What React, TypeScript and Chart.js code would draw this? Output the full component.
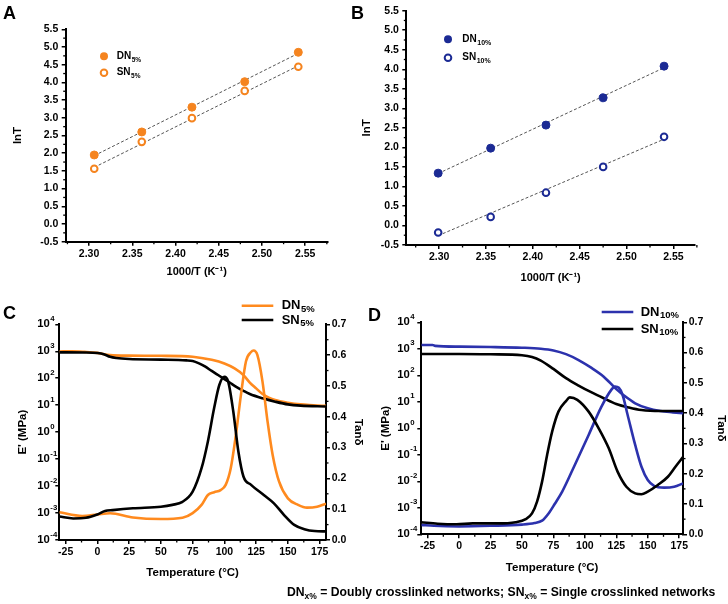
import React, { useEffect, useRef } from 'react';
import { Chart, registerables } from 'chart.js';
Chart.register(...registerables);

const FONT = '"Liberation Sans", Arial, Helvetica, sans-serif';
const ORANGE = '#ff8a1e';
const ORANGE_PT = '#f5841f';
const BLUE_PT = '#1b2a94';
const BLUE = '#2c32ad';
const FIT = '#555555';

// ---------- Panel A (lnT vs 1000/T, 5%) ----------
const aX = [2.306, 2.361, 2.419, 2.480, 2.542];
const aDN = [1.95, 2.60, 3.30, 4.02, 4.85];
const aSN = [1.56, 2.32, 2.99, 3.76, 4.44];
const aFitX = [2.306, 2.542];
const aFitDN = [1.93, 4.82];
const aFitSN = [1.60, 4.47];

// ---------- Panel B (lnT vs 1000/T, 10%) ----------
const bX = [2.299, 2.355, 2.414, 2.475, 2.540];
const bDN = [1.34, 1.98, 2.57, 3.27, 4.08];
const bSN = [-0.18, 0.22, 0.84, 1.50, 2.27];
const bFitX = [2.299, 2.540];
const bFitDN = [1.33, 4.04];
const bFitSN = [-0.26, 2.21];

// ---------- tick labels ----------
const lnTTicks = [-0.5, 0, 0.5, 1, 1.5, 2, 2.5, 3, 3.5, 4, 4.5, 5, 5.5];
const invTTicks = [2.30, 2.35, 2.40, 2.45, 2.50, 2.55];
const tempTicks = [-25, 0, 25, 50, 75, 100, 125, 150, 175];
const tanTicks = [0, 0.1, 0.2, 0.3, 0.4, 0.5, 0.6, 0.7];
const modExps = [-4, -3, -2, -1, 0, 1, 2, 3, 4];

// ---------- Panel C (DMA, 5%) ----------
const cDNE_T = [-30, -20, -10, 0, 10, 25, 50, 75, 90, 100, 108, 115, 120, 125, 130, 135, 140, 150, 160, 170, 180];
const cDNE = [980, 1000, 950, 870, 720, 690, 680, 630, 480, 350, 230, 130, 69, 42, 26, 19, 15.5, 12.4, 10.7, 10, 9.4];
const cSNE_T = [-30, -10, 0, 5, 10, 15, 25, 50, 70, 75, 80, 85, 90, 95, 100, 105, 110, 115, 120, 130, 140, 150, 160, 180];
const cSNE = [910, 900, 860, 780, 620, 560, 515, 490, 460, 437, 357, 268, 186, 132, 93, 65, 46, 34, 26, 18, 13.5, 10.7, 9.6, 8.9];
const cDNtan_T = [-30, -12, 0, 10, 28, 50, 67, 75, 82, 87, 92, 97, 101, 105, 109, 113, 117, 121, 123, 126, 130, 134, 138, 143, 150, 158, 165, 173, 180];
const cDNtan = [0.090, 0.078, 0.083, 0.087, 0.073, 0.068, 0.072, 0.087, 0.114, 0.146, 0.155, 0.162, 0.179, 0.233, 0.34, 0.47, 0.58, 0.61, 0.615, 0.60, 0.514, 0.384, 0.276, 0.19, 0.135, 0.114, 0.105, 0.108, 0.118];
const cSNtan_T = [-30, -19, -9, 0, 6, 12, 28, 50, 59, 67, 75, 82, 87, 92, 96, 100, 103, 107, 111, 115, 121, 131, 139, 147, 155, 163, 171, 180];
const cSNtan = [0.076, 0.070, 0.072, 0.083, 0.094, 0.097, 0.103, 0.108, 0.114, 0.124, 0.157, 0.233, 0.32, 0.43, 0.503, 0.53, 0.514, 0.417, 0.287, 0.206, 0.179, 0.146, 0.119, 0.081, 0.049, 0.035, 0.029, 0.028];

// ---------- Panel D (DMA, 10%) ----------
const dDNE_T = [-30, -21, -19, 0, 25, 50, 65, 75, 85, 95, 105, 115, 125, 130, 135, 140, 150, 160, 170, 178];
const dDNE = [1400, 1400, 1290, 1210, 1170, 1100, 1010, 870, 630, 377, 194, 89, 30, 19, 12.8, 8.8, 5.7, 4.5, 4.0, 3.7];
const dSNE_T = [-30, 0, 25, 50, 58, 65, 75, 85, 95, 105, 115, 125, 135, 145, 160, 178];
const dSNE = [640, 640, 620, 570, 490, 357, 174, 78, 41, 23, 13.6, 8.3, 6.1, 4.9, 4.5, 4.5];
const dDNtan_T = [-30, -20, 0, 25, 50, 60, 66, 71, 76, 82, 92, 103, 113, 121, 124, 127, 130, 134, 140, 145, 150, 155, 163, 171, 178];
const dDNtan = [0.031, 0.028, 0.026, 0.028, 0.032, 0.037, 0.045, 0.068, 0.1, 0.141, 0.229, 0.328, 0.42, 0.477, 0.488, 0.484, 0.46, 0.394, 0.295, 0.223, 0.179, 0.16, 0.154, 0.157, 0.168];
const dSNtan_T = [-30, -17, -2, 11, 30, 45, 53, 58, 62, 66, 70, 74, 79, 85, 88, 94, 103, 111, 119, 126, 133, 140, 145, 150, 158, 166, 172, 178];
const dSNtan = [0.040, 0.035, 0.033, 0.036, 0.036, 0.040, 0.050, 0.069, 0.108, 0.174, 0.262, 0.339, 0.405, 0.44, 0.452, 0.444, 0.405, 0.35, 0.284, 0.207, 0.157, 0.135, 0.132, 0.141, 0.163, 0.19, 0.223, 0.255];

// ---------- helpers ----------
const pts = (xs: number[], ys: number[]) => xs.map((x, i) => ({ x, y: ys[i] }));
const mids = (a: number[]) => a.slice(0, -1).map((v, i) => (v + a[i + 1]) / 2);
const bold = (size: number) => ({ family: FONT, size, weight: 'bold' as const });
const GRID = { display: true, drawOnChartArea: false, drawTicks: true, tickLength: 4, color: '#000', lineWidth: 1.5 };
const BORDER = { display: true, color: '#000', width: 2 };

function linAxis(o: any) {
  return {
    type: 'linear',
    position: o.position,
    min: o.min,
    max: o.max,
    afterBuildTicks: (s: any) => { s.ticks = o.ticks.map((v: number) => ({ value: v })); },
    afterFit: (s: any) => {
      if (o.fitW !== undefined) s.width = o.fitW;
      if (o.fitH !== undefined) s.height = o.fitH;
    },
    ticks: {
      display: o.showTicks !== false,
      callback: (v: any) => o.fmt(Number(v)),
      font: bold(o.size),
      color: '#000',
      padding: o.labelPad,
      autoSkip: false,
      maxRotation: 0,
      minRotation: 0,
    },
    grid: GRID,
    border: BORDER,
    title: o.title
      ? { display: true, text: o.title, color: '#000', font: bold(o.titleSize), padding: o.titlePad }
      : { display: false },
  };
}

function drawSub(ctx: CanvasRenderingContext2D, x: number, y: number, main: string, sub: string, ms: number, ss: number, dy: number) {
  ctx.textAlign = 'left';
  ctx.textBaseline = 'middle';
  ctx.fillStyle = '#000';
  ctx.font = `bold ${ms}px ${FONT}`;
  ctx.fillText(main, x, y);
  const w = ctx.measureText(main).width;
  ctx.font = `bold ${ss}px ${FONT}`;
  ctx.fillText(sub, x + w + 0.5, y + dy);
}

function decorPlugin(o: any) {
  return {
    id: 'decor',
    afterDraw(chart: any) {
      const ctx: CanvasRenderingContext2D = chart.ctx;
      ctx.save();
      ctx.strokeStyle = '#000';
      ctx.lineWidth = 1.3;
      for (const m of o.minor || []) {
        const s = chart.scales[m.id];
        for (const v of m.values) {
          const p = s.getPixelForValue(v);
          ctx.beginPath();
          if (m.side === 'bottom') { ctx.moveTo(p, s.top); ctx.lineTo(p, s.top + 2.5); }
          else if (m.side === 'left') { ctx.moveTo(s.right, p); ctx.lineTo(s.right - 2.5, p); }
          else { ctx.moveTo(s.left, p); ctx.lineTo(s.left + 2.5, p); }
          ctx.stroke();
        }
      }
      if (o.log) {
        const s = chart.scales[o.log.id];
        for (const e of o.log.exps) {
          const y = s.getPixelForValue(Math.pow(10, e));
          ctx.fillStyle = '#000';
          ctx.textAlign = 'left';
          ctx.textBaseline = 'middle';
          ctx.font = `bold 11.3px ${FONT}`;
          ctx.fillText('10', o.log.x, y);
          const w = ctx.measureText('10').width;
          ctx.font = `bold 7.8px ${FONT}`;
          ctx.fillText(String(e), o.log.x + w + 0.5, y - 5.5);
        }
      }
      if (o.legend) o.legend(ctx);
      ctx.restore();
    },
  };
}

function ChartBox({ left, top, width, height, build }: any) {
  const ref = useRef<HTMLCanvasElement>(null);
  useEffect(() => {
    const chart = new Chart(ref.current as HTMLCanvasElement, build());
    return () => chart.destroy();
  }, []);
  return (
    <canvas
      ref={ref}
      width={width}
      height={height}
      style={{ position: 'absolute', left, top, width, height }}
    />
  );
}

// ---------- Panels A/B ----------
function buildLn(p: any) {
  const datasets: any[] = [
    { data: pts(p.fitX, p.fitDN), borderColor: FIT, borderWidth: 1, borderDash: [3, 2], pointRadius: 0, showLine: true, order: 2 },
    { data: pts(p.fitX, p.fitSN), borderColor: FIT, borderWidth: 1, borderDash: [3, 2], pointRadius: 0, showLine: true, order: 2 },
    { data: pts(p.x, p.dn), showLine: false, pointRadius: 4, pointBackgroundColor: p.color, pointBorderColor: p.color, pointBorderWidth: 1, order: 1 },
    { data: pts(p.x, p.sn), showLine: false, pointRadius: 3.3, pointBackgroundColor: '#fff', pointBorderColor: p.color, pointBorderWidth: 2, order: 1 },
  ];
  return {
    type: 'line',
    data: { datasets },
    options: {
      animation: false,
      responsive: false,
      devicePixelRatio: 1,
      events: [],
      layout: { autoPadding: false, padding: p.pad },
      plugins: { legend: { display: false }, tooltip: { enabled: false } },
      scales: {
        x: linAxis({ position: 'bottom', min: p.xmin, max: p.xmax, ticks: invTTicks, fmt: (v: number) => v.toFixed(2), size: 10.5, labelPad: 2, fitH: p.xH, title: '1000/T (K\u207B\u00B9)', titleSize: 11, titlePad: { top: 0, bottom: p.xTitlePad } }),
        y: linAxis({ position: 'left', min: -0.5, max: 5.5, ticks: lnTTicks, fmt: (v: number) => v.toFixed(1), size: 10.5, labelPad: 3.4, fitW: p.yW, title: 'lnT', titleSize: 11.5, titlePad: { top: p.yTitlePad, bottom: 0 } }),
      },
    },
    plugins: [decorPlugin({
      minor: [
        { id: 'x', side: 'bottom', values: mids(invTTicks).concat([2.275, 2.575]) },
        { id: 'y', side: 'left', values: mids(lnTTicks) },
      ],
      legend: (ctx: CanvasRenderingContext2D) => {
        const L = p.legend;
        ctx.fillStyle = p.color;
        ctx.beginPath(); ctx.arc(L.mx, L.y1, 4, 0, Math.PI * 2); ctx.fill();
        ctx.strokeStyle = p.color; ctx.lineWidth = 2; ctx.fillStyle = '#fff';
        ctx.beginPath(); ctx.arc(L.mx, L.y2, 3.3, 0, Math.PI * 2); ctx.fill(); ctx.stroke();
        drawSub(ctx, L.tx, L.y1, 'DN', p.sub, 10, L.ss, 3.5);
        drawSub(ctx, L.tx, L.y2, 'SN', p.sub, 10, L.ss, 3.5);
      },
    })],
  };
}

// ---------- Panels C/D ----------
function buildDMA(p: any) {
  const line = (xs: number[], ys: number[], color: string, axis: string) => ({
    data: pts(xs, ys), yAxisID: axis, borderColor: color, borderWidth: 2.6, pointRadius: 0,
    cubicInterpolationMode: 'monotone', fill: false,
  });
  return {
    type: 'line',
    data: {
      datasets: [
        line(p.snTanT, p.snTan, '#000', 'y1'),
        line(p.dnTanT, p.dnTan, p.color, 'y1'),
        line(p.snET, p.snE, '#000', 'y'),
        line(p.dnET, p.dnE, p.color, 'y'),
      ],
    },
    options: {
      animation: false,
      responsive: false,
      devicePixelRatio: 1,
      events: [],
      layout: { autoPadding: false, padding: p.pad },
      plugins: { legend: { display: false }, tooltip: { enabled: false } },
      scales: {
        x: linAxis({ position: 'bottom', min: -30, max: p.xmax, ticks: tempTicks, fmt: (v: number) => String(v), size: 10.5, labelPad: 2, fitH: p.xH, title: 'Temperature (\u00B0C)', titleSize: 11.5, titlePad: { top: 0, bottom: p.xTitlePad } }),
        y: {
          type: 'logarithmic',
          position: 'left',
          min: 1e-4,
          max: 1e4,
          afterBuildTicks: (s: any) => { s.ticks = modExps.map((e) => ({ value: Math.pow(10, e) })); },
          afterFit: (s: any) => { s.width = p.yW; },
          ticks: { display: false, autoSkip: false },
          grid: GRID,
          border: BORDER,
          title: { display: true, text: "E' (MPa)", color: '#000', font: bold(11.5), padding: { top: p.yTitlePad, bottom: 0 } },
        },
        y1: linAxis({ position: 'right', min: 0, max: 0.7, ticks: tanTicks, fmt: (v: number) => v.toFixed(1), size: 10.5, labelPad: 1.7, fitW: p.y1W, title: 'Tan\u03B4', titleSize: 11.5, titlePad: { top: p.y1TitlePad, bottom: 0 } }),
      },
    },
    plugins: [decorPlugin({
      minor: [
        { id: 'x', side: 'bottom', values: mids(tempTicks) },
        { id: 'y1', side: 'right', values: mids(tanTicks) },
      ],
      log: { id: 'y', exps: modExps, x: p.logX },
      legend: (ctx: CanvasRenderingContext2D) => {
        const L = p.legend;
        ctx.lineWidth = 2.6;
        ctx.strokeStyle = p.color;
        ctx.beginPath(); ctx.moveTo(L.x0, L.y1); ctx.lineTo(L.x1, L.y1); ctx.stroke();
        ctx.strokeStyle = '#000';
        ctx.beginPath(); ctx.moveTo(L.x0, L.y2); ctx.lineTo(L.x1, L.y2); ctx.stroke();
        drawSub(ctx, L.tx, L.y1, 'DN', p.sub, 13, 9.5, 3.5);
        drawSub(ctx, L.tx, L.y2, 'SN', p.sub, 13, 9.5, 3.5);
      },
    })],
  };
}

const letterStyle = (left: number, top: number): React.CSSProperties => ({
  position: 'absolute', left, top, fontFamily: FONT, fontWeight: 'bold', fontSize: 18, lineHeight: '18px', color: '#000',
});

export default function App() {
  return (
    <div style={{ position: 'fixed', left: 0, top: 0, width: 728, height: 604, background: '#fff', overflow: 'hidden' }}>
      <ChartBox left={0} top={0} width={364} height={300} build={() => buildLn({
        x: aX, dn: aDN, sn: aSN, fitX: aFitX, fitDN: aFitDN, fitSN: aFitSN, color: ORANGE_PT, sub: '5%',
        xmin: 2.273, xmax: 2.576, pad: { left: 0, right: 36.3, top: 29.3, bottom: 0 },
        xH: 58.3, xTitlePad: 21.7, yW: 65.7, yTitlePad: 11.4,
        legend: { mx: 104, y1: 56.3, y2: 72.7, tx: 116.7, ss: 6.5 },
      })} />
      <ChartBox left={350} top={0} width={378} height={300} build={() => buildLn({
        x: bX, dn: bDN, sn: bSN, fitX: bFitX, fitDN: bFitDN, fitSN: bFitSN, color: BLUE_PT, sub: '10%',
        xmin: 2.265, xmax: 2.573, pad: { left: 0, right: 33, top: 10.7, bottom: 0 },
        xH: 55, xTitlePad: 15.7, yW: 56.3, yTitlePad: 10.4,
        legend: { mx: 98, y1: 39.3, y2: 57.7, tx: 112.3, ss: 7 },
      })} />
      <ChartBox left={0} top={295} width={372} height={300} build={() => buildDMA({
        dnET: cDNE_T, dnE: cDNE, snET: cSNE_T, snE: cSNE, dnTanT: cDNtan_T, dnTan: cDNtan, snTanT: cSNtan_T, snTan: cSNtan,
        color: ORANGE, sub: '5%', xmax: 180,
        pad: { left: 0, right: 0, top: 29.3, bottom: 0 }, xH: 55, xTitlePad: 15.4, yW: 59.3, yTitlePad: 15.7, y1W: 46, y1TitlePad: 7.1,
        logX: 37.3,
        legend: { x0: 241.7, x1: 273.3, y1: 10.7, y2: 25, tx: 281.7 },
      })} />
      <ChartBox left={364} top={295} width={364} height={300} build={() => buildDMA({
        dnET: dDNE_T, dnE: dDNE, snET: dSNE_T, snE: dSNE, dnTanT: dDNtan_T, dnTan: dDNtan, snTanT: dSNtan_T, snTan: dSNtan,
        color: BLUE, sub: '10%', xmax: 178,
        pad: { left: 0, right: 0, top: 27.3, bottom: 0 }, xH: 60.7, xTitlePad: 20.4, yW: 57.3, yTitlePad: 15.4, y1W: 45, y1TitlePad: 0,
        logX: 33.3,
        legend: { x0: 237.7, x1: 269.3, y1: 17, y2: 34, tx: 276.7 },
      })} />
      <div style={letterStyle(3, 4.3)}>A</div>
      <div style={letterStyle(351, 4.3)}>B</div>
      <div style={letterStyle(3, 304.3)}>C</div>
      <div style={letterStyle(368, 306)}>D</div>
      <div style={{ position: 'absolute', left: 287, top: 585, fontFamily: FONT, fontWeight: 'bold', fontSize: 12.2, lineHeight: '14px', whiteSpace: 'nowrap', color: '#000' }}>
        DN<sub style={{ fontSize: 8.5, lineHeight: 0 }}>x%</sub> = Doubly crosslinked networks; SN<sub style={{ fontSize: 8.5, lineHeight: 0 }}>x%</sub> = Single crosslinked networks
      </div>
    </div>
  );
}
